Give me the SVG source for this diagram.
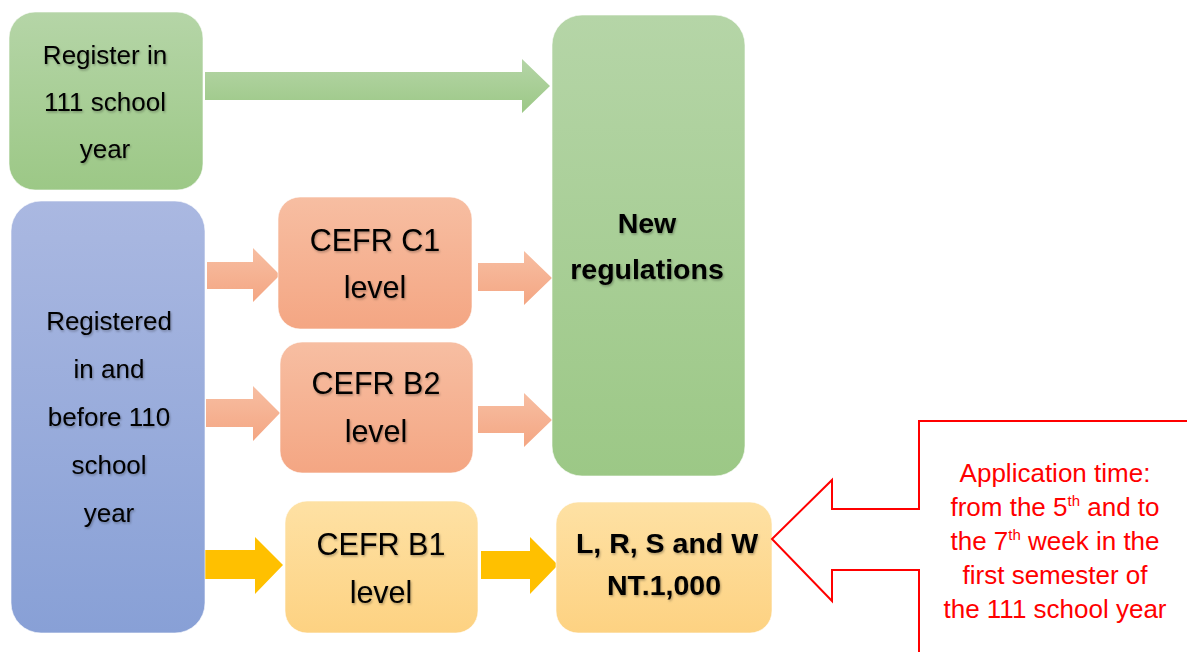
<svg xmlns="http://www.w3.org/2000/svg" width="1187" height="652" viewBox="0 0 1187 652">
<defs>
<linearGradient id="gGreen" x1="0" y1="0" x2="0" y2="1"><stop offset="0" stop-color="#B5D5A7"/><stop offset="1" stop-color="#9CC886"/></linearGradient>
<linearGradient id="gBlue" x1="0" y1="0" x2="0" y2="1"><stop offset="0" stop-color="#AAB8E1"/><stop offset="1" stop-color="#88A0D6"/></linearGradient>
<linearGradient id="gSalmon" x1="0" y1="0" x2="0" y2="1"><stop offset="0" stop-color="#F7BEA2"/><stop offset="1" stop-color="#F4A683"/></linearGradient>
<linearGradient id="gYellow" x1="0" y1="0" x2="0" y2="1"><stop offset="0" stop-color="#FEE1A4"/><stop offset="1" stop-color="#FDD282"/></linearGradient>
<filter id="sh" x="-10%" y="-20%" width="120%" height="150%"><feDropShadow dx="1" dy="1.5" stdDeviation="1" flood-color="#000" flood-opacity="0.3"/></filter>
</defs>
<style>
.box{stroke:#FFFFFF;stroke-opacity:0.6;stroke-width:1}
.t{font-family:"Liberation Sans",Arial,sans-serif;fill:#000;text-anchor:middle;filter:url(#sh)}
.n{font-size:26px}
.m{font-size:30.5px}
.b{font-size:28.5px;font-weight:bold}
.red{font-family:"Liberation Sans",Arial,sans-serif;fill:#FF0000;text-anchor:middle;font-size:26px}
.sup{font-size:15px}
</style>

<g id="connectors">
<polygon fill="url(#gGreen)" points="205,72 522,72 522,59 550,86 522,113 522,100 205,100"/>
<polygon fill="url(#gSalmon)" points="207,262 253,262 253,248 280,275 253,302 253,289 207,289"/>
<polygon fill="url(#gSalmon)" points="478,263 524,263 524,251 552,278 524,305 524,291 478,291"/>
<polygon fill="url(#gSalmon)" points="206,399 253,399 253,386 280,413 253,441 253,427 206,427"/>
<polygon fill="url(#gSalmon)" points="478,406 524,406 524,393 552,420 524,447 524,433 478,433"/>
<polygon fill="#FFC000" points="205,550 255,550 255,537 283,565 255,594 255,579 205,579"/>
<polygon fill="#FFC000" points="481,551 530,551 530,537 558,565 530,594 530,579 481,579"/>
</g>

<g id="node-register111">
<rect class="box" x="9" y="12" width="194" height="178" rx="26" fill="url(#gGreen)"/>
<text class="t n" x="105" y="64">Register in</text>
<text class="t n" x="105" y="111">111 school</text>
<text class="t n" x="105" y="158">year</text>
</g>

<g id="node-new-regulations">
<rect class="box" x="552" y="15" width="193" height="461" rx="30" fill="url(#gGreen)"/>
<text class="t b" x="647" y="233">New</text>
<text class="t b" x="647" y="279">regulations</text>
</g>

<g id="node-registered110">
<rect class="box" x="11" y="201" width="194" height="432" rx="30" fill="url(#gBlue)"/>
<text class="t n" x="109" y="330">Registered</text>
<text class="t n" x="109" y="378">in and</text>
<text class="t n" x="109" y="426">before 110</text>
<text class="t n" x="109" y="474">school</text>
<text class="t n" x="109" y="522">year</text>
</g>

<g id="node-c1">
<rect class="box" x="278" y="197" width="194" height="132" rx="22" fill="url(#gSalmon)"/>
<text class="t m" x="375" y="251">CEFR C1</text>
<text class="t m" x="375" y="298">level</text>
</g>

<g id="node-b2">
<rect class="box" x="280" y="342" width="193" height="131" rx="22" fill="url(#gSalmon)"/>
<text class="t m" x="376" y="394">CEFR B2</text>
<text class="t m" x="376" y="442">level</text>
</g>

<g id="node-b1">
<rect class="box" x="285" y="501" width="193" height="132" rx="22" fill="url(#gYellow)"/>
<text class="t m" x="381" y="555">CEFR B1</text>
<text class="t m" x="381" y="603">level</text>
</g>

<g id="node-fee">
<rect class="box" x="556" y="502" width="216" height="131" rx="22" fill="url(#gYellow)"/>
<text class="t b" x="667" y="553">L, R, S and W</text>
<text class="t b" x="664" y="595">NT.1,000</text>
</g>

<g id="node-callout">
<polygon fill="#FFFFFF" stroke="#FF0000" stroke-width="2" points="919,421 1190,421 1190,655 919,655 919,570 832,570 832,601 772,539 832,480 832,509 919,509"/>
<text class="red" x="1055" y="482">Application time:</text>
<text class="red" x="1055" y="516">from the 5<tspan class="sup" dy="-10">th</tspan><tspan dy="10"> and to</tspan></text>
<text class="red" x="1055" y="550">the 7<tspan class="sup" dy="-10">th</tspan><tspan dy="10"> week in the</tspan></text>
<text class="red" x="1055" y="584">first semester of</text>
<text class="red" x="1055" y="618">the 111 school year</text>
</g>
</svg>
